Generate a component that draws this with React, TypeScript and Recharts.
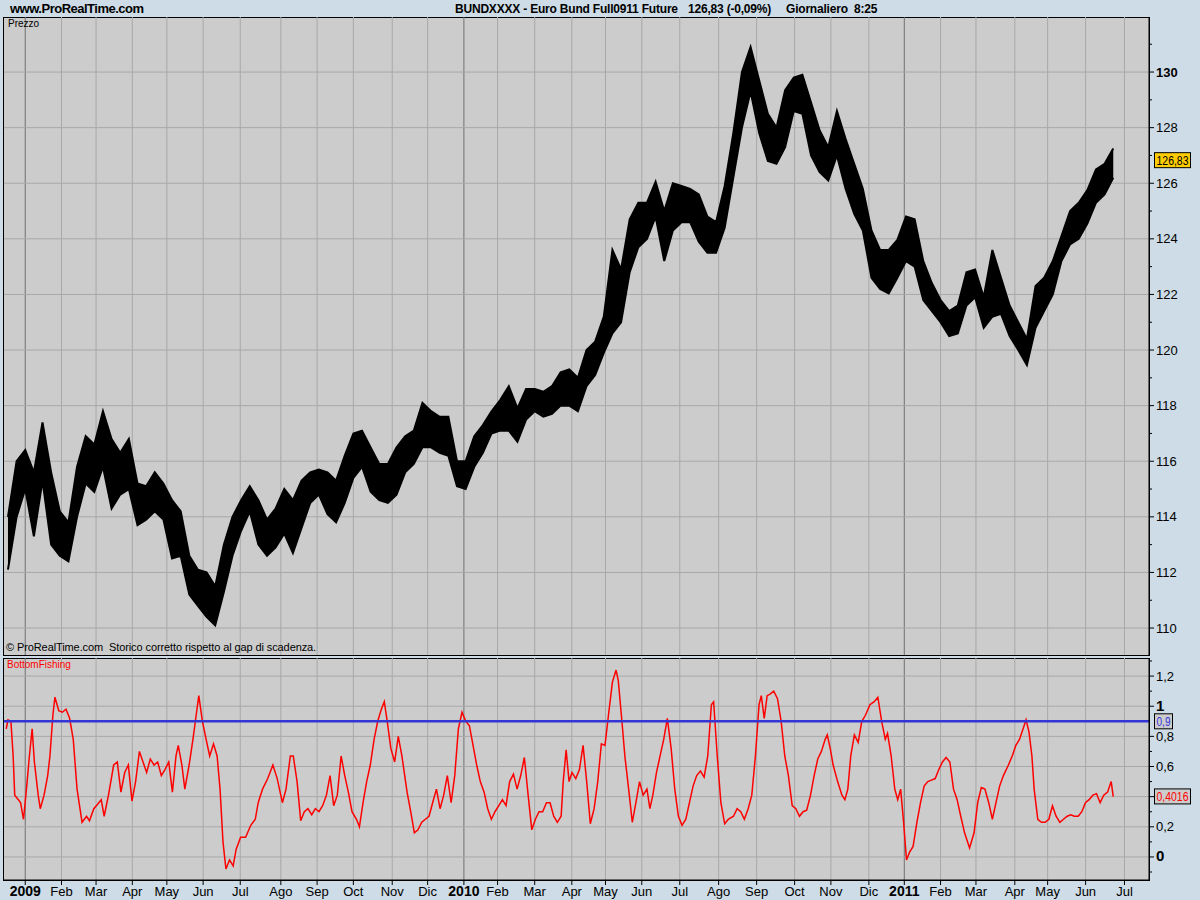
import React from "react";
import { Area, ComposedChart, Line, ReferenceLine, XAxis, YAxis } from "recharts";

const FONT = '"Liberation Sans", Arial, sans-serif';

// month starts, in trading sessions counted from the first bar
const monthLabels = [
  "2009", "Feb", "Mar", "Apr", "May", "Jun", "Jul", "Ago", "Sep", "Oct", "Nov", "Dic",
  "2010", "Feb", "Mar", "Apr", "May", "Jun", "Jul", "Ago", "Sep", "Oct", "Nov", "Dic",
  "2011", "Feb", "Mar", "Apr", "May", "Jun", "Jul",
];
const monthDays = [
  10, 31, 51, 72, 92, 113, 134.5, 158, 179, 200, 222.5, 243,
  264, 283.5, 305, 326.5, 346, 367, 389, 411.5, 433.5, 455.5, 476.5, 498.5,
  519, 540, 560.5, 583, 602, 624, 646.5,
];
const yearLabels = ["2009", "2010", "2011"];

// weekly high / low of the Bund future (one sample every 5 sessions)
const sessionStep = 5;
const priceHigh = [
  114.0, 116.0, 116.4, 115.6, 117.4, 115.6, 114.2, 113.8, 115.8, 116.9,
  116.6, 117.8, 116.8, 116.3, 116.8, 115.2, 115.1, 115.6, 115.2, 114.6,
  114.2, 112.6, 112.1, 112.0, 111.5, 113.0, 114.0, 114.6, 115.1, 114.6,
  113.9, 114.3, 115.0, 114.6, 115.3, 115.6, 115.7, 115.6, 115.3, 116.2,
  117.0, 117.1, 116.5, 115.9, 115.9, 116.5, 116.9, 117.1, 118.1, 117.8,
  117.6, 117.6, 116.0, 116.0, 116.9, 117.3, 117.8, 118.2, 118.7, 117.9,
  118.6, 118.6, 118.5, 118.7, 119.2, 119.3, 119.0, 120.0, 120.3, 121.2,
  123.6, 122.9, 124.7, 125.3, 125.3, 126.05, 125.0, 126.0, 125.9, 125.8,
  125.6, 124.8, 124.6, 125.9, 127.8, 130.0, 130.9, 129.7, 128.5, 128.0,
  129.35, 129.8, 129.9, 128.9, 127.9, 127.3, 128.6, 127.6, 126.7, 125.8,
  124.3, 123.6, 123.6, 123.96, 124.8, 124.7, 123.2, 122.4, 121.8, 121.4,
  121.6, 122.8, 122.9, 121.9, 123.6, 122.6, 121.6, 121.0, 120.4, 122.3,
  122.6, 123.2, 124.1, 125.0, 125.3, 125.75, 126.5, 126.7, 127.25,
];
const priceLow = [
  112.1, 114.0, 115.0, 113.3, 115.3, 113.0, 112.6, 112.4, 114.0, 115.2,
  114.9, 115.8, 114.3, 114.8, 115.0, 113.7, 113.9, 114.2, 113.9, 112.5,
  112.6, 111.2, 110.8, 110.4, 110.1, 111.3, 112.6, 113.5, 114.2, 113.0,
  112.6, 112.9, 113.4, 112.7, 113.6, 114.5, 114.8, 114.1, 113.8, 114.5,
  115.4, 115.8, 114.9, 114.6, 114.5, 114.8, 115.6, 115.9, 116.5, 116.5,
  116.3, 116.2, 115.1, 115.0, 115.8, 116.3, 117.0, 117.1, 117.1, 116.7,
  117.5, 117.8, 117.6, 117.7, 118.0, 118.0, 117.8, 118.7, 119.1, 119.9,
  120.6, 121.0, 122.8, 123.7, 124.0, 124.8, 123.2, 124.3, 124.6, 124.6,
  123.9, 123.5, 123.5, 124.4, 126.2, 128.0, 129.3, 127.8, 126.8, 126.7,
  127.3, 128.6, 128.5, 127.0, 126.4, 126.1, 127.0, 125.8, 124.9, 124.3,
  122.6, 122.2, 122.04, 122.6, 123.2, 123.0, 121.8, 121.4, 121.0, 120.5,
  120.6, 121.6, 121.9, 120.8, 121.2, 121.3, 120.5, 120.0, 119.46, 120.8,
  121.4, 122.0, 123.2, 123.8, 124.0, 124.55, 125.3, 125.6, 126.2,
];
const priceTicks = [110, 111, 112, 113, 114, 115, 116, 117, 118, 119, 120, 121, 122, 123, 124, 125, 126, 127, 128, 129, 130, 131];
const priceGrid = [110, 112, 114, 116, 118, 120, 122, 124, 126, 128, 130];
const lastClose = 126.83;

// BottomFishing indicator
const bfDays = [
  -1, 0, 1.7, 3, 3.9, 6, 7.3, 9, 10.7, 12.4,
  14, 15.3, 17.5, 18.7, 20.9, 23, 24.3, 26, 27.2, 29.4,
  31.5, 33.6, 35.7, 37.8, 40, 42.9, 45.5, 47.2, 49.7, 51.9,
  54, 55.7, 58.2, 61.2, 63.3, 65.4, 67.6, 69.7, 71.8, 73.9,
  76.1, 78.2, 80.3, 82.4, 84.6, 86.7, 88.8, 90.9, 93.1, 95.2,
  97.3, 98.6, 100.7, 102.4, 104.9, 107.1, 109.2, 110.5, 112.6, 115.1,
  116.8, 119, 121.1, 122.8, 124.5, 126.2, 128.3, 130.4, 132.1, 134.7,
  137.6, 140.6, 143.2, 144.9, 147.4, 150.4, 153.4, 155.9, 158.9, 161,
  163.5, 165.2, 167.4, 169.5, 171.6, 173.7, 175.9, 178, 180.1, 182.2,
  184.4, 186.5, 188.6, 190.7, 192.9, 195, 197.1, 199.2, 201.8, 203.5,
  205.6, 207.7, 209.8, 212, 214.1, 216.2, 217.9, 219.6, 221.7, 223.9,
  226, 228.1, 231.1, 233.2, 235.3, 237.4, 239.6, 241.7, 243.8, 245.9,
  248.1, 250.2, 252.3, 254.4, 256.6, 258.7, 260.8, 262.9, 265.1, 267.2,
  269.3, 271.4, 273.5, 275.7, 277.8, 279.9, 282, 284.2, 286.3, 288.4,
  290.5, 292.7, 294.8, 296.9, 299, 301.2, 303.3, 305.4, 307.5, 309.6,
  311.8, 313.9, 316, 318.1, 320.3, 321.5, 323.2, 324.9, 326.6, 328.8,
  330.9, 333, 335.1, 337.2, 339.4, 341.5, 343.6, 345.7, 347.9, 350,
  352.1, 353.4, 355.5, 357.2, 359.4, 361.5, 363.6, 365.7, 367.8, 370,
  371.7, 373.4, 375.5, 377.6, 379.7, 381.8, 384, 386.1, 388.2, 390.3,
  392.5, 394.6, 396.7, 398.8, 401, 403.1, 405.2, 407.3, 408.6, 410.7,
  412.8, 415, 417.1, 420.1, 422.2, 424.3, 426.4, 428.6, 430.7, 432.8,
  434.9, 436.2, 437.9, 439.6, 441.3, 443.4, 445.6, 447.7, 449.8, 451.9,
  454.1, 456.2, 458.3, 460.4, 462.5, 464.7, 466.8, 468.9, 471, 473.2,
  474.4, 476.1, 477.8, 480.4, 482.9, 484.6, 486.3, 488, 490.1, 492.3,
  494.4, 496.5, 499.1, 501.6, 503.7, 505.9, 508, 509.3, 511.4, 513.5,
  515.2, 516.9, 518.6, 520.3, 522, 524.1, 526.3, 528.4, 530.5, 532.6,
  534.7, 536.9, 539, 541.1, 543.2, 545.4, 547.5, 549.6, 551.7, 553.9,
  556.8, 559.4, 561.5, 563.6, 565.7, 567.9, 570, 572.1, 574.2, 576.4,
  579.3, 581.5, 583.6, 585.7, 587.8, 589.5, 591.2, 592.9, 594.2, 596.3,
  598.4, 600.6, 602.7, 604.8, 606.9, 609.1, 611.2, 613.3, 615.4, 617.5,
  619.7, 621.8, 623.9, 626, 628.2, 630.3, 632.4, 634.5, 636.7, 638.8, 640,
];
const bfValues = [
  0.85, 0.91, 0.9, 0.67, 0.41, 0.38, 0.36, 0.25, 0.45, 0.67,
  0.85, 0.63, 0.41, 0.32, 0.41, 0.54, 0.67, 0.94, 1.06, 0.97,
  0.96, 0.98, 0.92, 0.78, 0.45, 0.23, 0.27, 0.24, 0.32, 0.35,
  0.38, 0.27, 0.41, 0.61, 0.63, 0.43, 0.56, 0.61, 0.37, 0.5,
  0.7, 0.63, 0.56, 0.65, 0.61, 0.63, 0.54, 0.58, 0.63, 0.43,
  0.67, 0.74, 0.61, 0.45, 0.61, 0.78, 0.96, 1.07, 0.9, 0.76,
  0.67, 0.75, 0.67, 0.45, 0.1, -0.08, -0.02, -0.06, 0.05, 0.13,
  0.13, 0.21, 0.25, 0.36, 0.45, 0.52, 0.61, 0.52, 0.36, 0.45,
  0.67, 0.67, 0.5, 0.24, 0.3, 0.32, 0.28, 0.32, 0.3, 0.34,
  0.41, 0.54, 0.34, 0.41, 0.67, 0.54, 0.43, 0.3, 0.25, 0.2,
  0.36, 0.5, 0.61, 0.78, 0.9, 0.98, 1.03, 0.9, 0.72, 0.63,
  0.8, 0.67, 0.43, 0.3, 0.16, 0.18, 0.23, 0.25, 0.27, 0.36,
  0.45, 0.32, 0.41, 0.54, 0.36, 0.54, 0.85, 0.96, 0.9, 0.87,
  0.74, 0.61, 0.5, 0.43, 0.32, 0.25, 0.3, 0.34, 0.38, 0.34,
  0.5, 0.55, 0.45, 0.54, 0.66, 0.41, 0.18, 0.25, 0.3, 0.3,
  0.36, 0.36, 0.27, 0.23, 0.27, 0.5, 0.71, 0.5, 0.56, 0.52,
  0.58, 0.74, 0.5, 0.22, 0.32, 0.5, 0.75, 0.74, 0.96, 1.16,
  1.24, 1.17, 0.9, 0.67, 0.45, 0.23, 0.36, 0.5, 0.41, 0.45,
  0.32, 0.41, 0.56, 0.67, 0.78, 0.92, 0.72, 0.45, 0.27, 0.21,
  0.25, 0.36, 0.47, 0.54, 0.57, 0.53, 0.67, 1.01, 1.03, 0.67,
  0.36, 0.22, 0.25, 0.27, 0.32, 0.3, 0.25, 0.32, 0.41, 0.67,
  1.01, 1.07, 0.92, 1.07, 1.08, 1.1, 1.05, 0.9, 0.67, 0.54,
  0.34, 0.32, 0.27, 0.3, 0.31, 0.41, 0.54, 0.65, 0.7, 0.78,
  0.81, 0.72, 0.61, 0.5, 0.41, 0.38, 0.45, 0.67, 0.81, 0.76,
  0.9, 0.94, 1.01, 1.03, 1.06, 0.9, 0.78, 0.82, 0.67, 0.45,
  0.38, 0.45, 0.23, -0.02, 0.03, 0.07, 0.23, 0.36, 0.47, 0.5,
  0.51, 0.52, 0.58, 0.63, 0.66, 0.63, 0.45, 0.38, 0.27, 0.16,
  0.06, 0.16, 0.36, 0.46, 0.45, 0.36, 0.25, 0.36, 0.47, 0.54,
  0.61, 0.67, 0.74, 0.78, 0.85, 0.91, 0.83, 0.67, 0.45, 0.25,
  0.23, 0.23, 0.25, 0.34, 0.27, 0.23, 0.25, 0.27, 0.28, 0.27,
  0.27, 0.3, 0.36, 0.38, 0.41, 0.42, 0.36, 0.41, 0.43, 0.5, 0.4,
];
const bfTicks = [-0.1, 0, 0.1, 0.2, 0.3, 0.4, 0.4016, 0.5, 0.6, 0.7, 0.8, 0.9, 1, 1.1, 1.2, 1.3];
const bfGrid = [0, 0.2, 0.4, 0.6, 0.8, 1, 1.2];
const bfLabels = [0, 0.2, 0.6, 0.8, 1, 1.2];
const bfLevel = 0.9;
const bfLast = 0.4016;

const X_DOMAIN: [number, number] = [-2.3, 660.7];
const PRICE_DOMAIN: [number, number] = [109.03, 131.98];
const BF_DOMAIN: [number, number] = [-0.153, 1.32];

const priceData = priceHigh.map((h, i) => ({ d: i * sessionStep, band: [priceLow[i], h] }));
const bfData = bfDays.map((d, i) => ({ d, v: bfValues[i] }));

const fmt = (v: number) => String(v).replace(".", ",");
const GRID = "#a8a8a8";
const YEAR_GRID = "#707070";

// value box drawn next to the right axis
function ValueBox({ x, y, text, width, fill, color }: any) {
  return (
    <g>
      <rect x={x + 5.5} y={y - 7.5} width={width} height={15} fill={fill} stroke="#000" />
      <text x={x + 7.5} y={y + 4.5} fontSize={13} fontFamily={FONT} fill={color}
        textLength={width - 4} lengthAdjust="spacingAndGlyphs">
        {text}
      </text>
    </g>
  );
}

function PriceTick({ x, y, payload }: any) {
  const v = payload.value as number;
  if (v === lastClose) {
    return <ValueBox x={x} y={y} text={fmt(v)} width={36} fill="#ffcc00" color="#000" />;
  }
  const major = v % 2 === 0;
  return (
    <g>
      <line x1={x} x2={x + (major ? 5 : 3)} y1={y} y2={y} stroke="#000" />
      {major && (
        <text x={x + 7} y={y + 4.5} fontSize={13} fontFamily={FONT} fontWeight={v === 130 ? "bold" : "normal"} fill="#000">
          {v}
        </text>
      )}
    </g>
  );
}

function BfTick({ x, y, payload }: any) {
  const v = payload.value as number;
  if (v === bfLevel) return <ValueBox x={x} y={y} text={fmt(v)} width={18} fill="#cccccc" color="#3333dd" />;
  if (v === bfLast) return <ValueBox x={x} y={y} text={fmt(v)} width={36} fill="#cccccc" color="#ff0000" />;
  const major = Math.abs(v * 5 - Math.round(v * 5)) < 1e-6;
  const label = bfLabels.some((l) => Math.abs(l - v) < 1e-6);
  return (
    <g>
      <line x1={x} x2={x + (major ? 5 : 3)} y1={y} y2={y} stroke="#000" />
      {label && (
        <text x={x + 7} y={y + 4.5} fontSize={Number.isInteger(v) ? 15 : 13} fontFamily={FONT}
          fontWeight={Number.isInteger(v) ? "bold" : "normal"} fill="#000">
          {fmt(v)}
        </text>
      )}
    </g>
  );
}

function MonthTick({ x, y, payload }: any) {
  const label = monthLabels[monthDays.indexOf(payload.value)];
  const year = yearLabels.includes(label);
  return (
    <g>
      <line x1={x} x2={x} y1={y} y2={y + 5} stroke="#000" />
      <text x={x} y={y + 16} textAnchor="middle" fontSize={year ? 14 : 13} fontWeight={year ? "bold" : "normal"}
        fontFamily={FONT} fill="#000">
        {label}
      </text>
    </g>
  );
}

const monthLines = (prefix: string) =>
  monthDays.map((d, i) => (
    <ReferenceLine key={prefix + d} x={d} stroke={yearLabels.includes(monthLabels[i]) ? YEAR_GRID : GRID}
      zIndex={-100} />
  ));

const headStyle = { position: "absolute", top: 2, fontSize: 12, fontWeight: "bold", whiteSpace: "pre", letterSpacing: -0.2 } as const;

export default function App() {
  return (
    <div style={{ position: "absolute", left: 0, top: 0, width: 1200, height: 900, background: "#cddce6", fontFamily: FONT, overflow: "hidden" }}>
      <div style={{ position: "absolute", left: 10, top: 1, fontSize: 13, fontWeight: "bold", letterSpacing: -0.5 }}>www.ProRealTime.com</div>
      <div style={{ ...headStyle, left: 455 }}>BUNDXXXX - Euro Bund Full0911 Future</div>
      <div style={{ ...headStyle, left: 688 }}>126,83 (-0,09%)</div>
      <div style={{ ...headStyle, left: 786 }}>Giornaliero  8:25</div>

      <div style={{ position: "absolute", left: 3, top: 17, width: 1145, height: 637, background: "#cccccc", border: "1px solid #000" }} />
      <div style={{ position: "absolute", left: 3, top: 658, width: 1145, height: 221, background: "#cccccc", border: "1px solid #000" }} />

      <div style={{ position: "absolute", left: 0, top: 0 }}>
        <ComposedChart width={1200} height={660} data={priceData} margin={{ top: 17, right: 0, bottom: 5, left: 4 }}>
          <XAxis dataKey="d" type="number" domain={X_DOMAIN} allowDataOverflow hide />
          <YAxis orientation="right" width={51} type="number" domain={PRICE_DOMAIN} allowDataOverflow ticks={[...priceTicks, lastClose]}
            interval={0} tickSize={0} tickMargin={0} tickLine={false} axisLine={{ stroke: "#000" }} tick={PriceTick} />
          {monthLines("p")}
          {priceGrid.map((p) => (
            <ReferenceLine key={"pg" + p} y={p} stroke={GRID} zIndex={-100} />
          ))}
          <Area dataKey="band" type="linear" stroke="#000" strokeWidth={2} fill="#000" fillOpacity={1}
            isAnimationActive={false} dot={false} activeDot={false} />
        </ComposedChart>
      </div>

      <div style={{ position: "absolute", left: 0, top: 640 }}>
        <ComposedChart width={1200} height={260} data={bfData} margin={{ top: 18, right: 0, bottom: 0, left: 4 }}>
          <XAxis dataKey="d" type="number" domain={X_DOMAIN} allowDataOverflow ticks={monthDays} interval={0} height={20}
            tickSize={0} tickMargin={0} tickLine={false} axisLine={{ stroke: "#000" }} tick={MonthTick} />
          <YAxis orientation="right" width={51} type="number" domain={BF_DOMAIN} allowDataOverflow ticks={bfTicks}
            interval={0} tickSize={0} tickMargin={0} tickLine={false} axisLine={{ stroke: "#000" }} tick={BfTick} />
          {monthLines("b")}
          {bfGrid.map((g) => (
            <ReferenceLine key={"bg" + g} y={g} stroke={GRID} zIndex={-100} />
          ))}
          <Line dataKey="v" type="linear" stroke="#ff0000" strokeWidth={1.5} dot={false} activeDot={false} isAnimationActive={false} />
          <ReferenceLine y={bfLevel} stroke="#3535d6" strokeWidth={2.5} />
        </ComposedChart>
      </div>

      <div style={{ position: "absolute", left: 8, top: 18, fontSize: 10 }}>Prezzo</div>
      <div style={{ position: "absolute", left: 6, top: 641, fontSize: 11, whiteSpace: "pre", letterSpacing: -0.1 }}>© ProRealTime.com  Storico corretto rispetto al gap di scadenza.</div>
      <div style={{ position: "absolute", left: 7, top: 659, fontSize: 10, color: "#ff0000" }}>BottomFishing</div>
    </div>
  );
}
